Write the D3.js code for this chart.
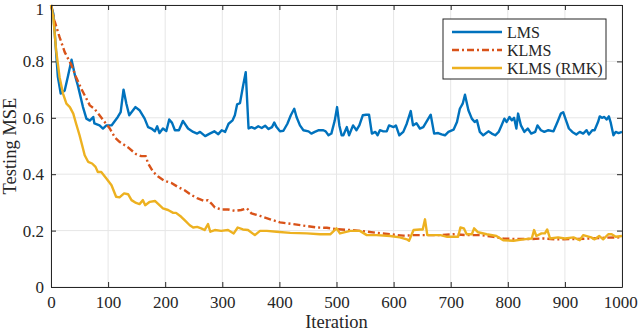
<!DOCTYPE html>
<html>
<head>
<meta charset="utf-8">
<script src="https://cdn.jsdelivr.net/npm/d3@7"></script>
<style>
  body { margin: 0; background: #fff; }
  svg { display: block; }
</style>
</head>
<body>
<svg id="canvas" width="640" height="332"></svg>
<script>
// values: [iteration, testing MSE]
var lms = [[0,1],[4,0.97],[8,0.86],[12,0.745],[17,0.686],[24,0.697],[30,0.75],[36,0.806],[42,0.75],[47,0.715],[56,0.638],[62,0.597],[68,0.59],[74,0.603],[76,0.58],[85,0.573],[91,0.562],[97,0.573],[106,0.573],[117,0.603],[122,0.62],[127,0.70],[132,0.65],[137,0.609],[148,0.638],[155,0.627],[164,0.597],[170,0.567],[176,0.562],[182,0.552],[186,0.57],[190,0.546],[196,0.562],[202,0.553],[207,0.594],[212,0.582],[217,0.556],[224,0.556],[231,0.589],[240,0.562],[249,0.55],[256,0.544],[261,0.55],[270,0.535],[278,0.544],[286,0.552],[293,0.542],[299,0.556],[305,0.55],[311,0.579],[318,0.591],[322,0.609],[326,0.648],[331,0.652],[336,0.709],[341,0.762],[346,0.562],[351,0.567],[357,0.562],[363,0.57],[369,0.564],[375,0.572],[381,0.56],[387,0.567],[391,0.583],[395,0.567],[401,0.552],[407,0.554],[414,0.579],[420,0.609],[426,0.632],[430,0.603],[436,0.573],[442,0.556],[451,0.552],[456,0.544],[462,0.55],[469,0.556],[477,0.556],[481,0.552],[486,0.538],[491,0.544],[497,0.591],[501,0.638],[505,0.573],[509,0.538],[512,0.538],[518,0.567],[522,0.538],[529,0.573],[535,0.556],[540,0.573],[546,0.609],[552,0.611],[557,0.611],[562,0.544],[568,0.55],[572,0.538],[576,0.556],[582,0.552],[588,0.552],[592,0.573],[600,0.567],[604,0.573],[610,0.538],[617,0.55],[623,0.579],[630,0.624],[634,0.573],[640,0.581],[646,0.562],[652,0.567],[659,0.591],[665,0.611],[671,0.544],[678,0.546],[684,0.541],[690,0.538],[696,0.55],[705,0.558],[711,0.585],[716,0.632],[721,0.65],[725,0.682],[731,0.627],[737,0.597],[742,0.585],[746,0.591],[751,0.55],[757,0.538],[766,0.552],[772,0.544],[778,0.538],[784,0.55],[789,0.573],[794,0.597],[798,0.585],[803,0.603],[807,0.591],[811,0.6],[815,0.562],[818,0.615],[823,0.573],[829,0.55],[835,0.562],[841,0.544],[848,0.55],[852,0.573],[858,0.556],[864,0.55],[871,0.556],[880,0.552],[887,0.585],[893,0.615],[897,0.62],[902,0.591],[907,0.562],[913,0.55],[920,0.541],[926,0.55],[932,0.544],[938,0.556],[942,0.541],[948,0.556],[952,0.556],[958,0.585],[961,0.605],[965,0.6],[969,0.603],[973,0.594],[977,0.605],[980,0.585],[985,0.538],[989,0.55],[994,0.546],[1000,0.55]]

var klms = [[0,1],[6,0.945],[15,0.886],[24,0.833],[36,0.786],[44,0.744],[53,0.703],[62,0.668],[68,0.644],[76,0.632],[85,0.609],[94,0.585],[103,0.562],[112,0.53],[120,0.515],[135,0.495],[149,0.471],[158,0.464],[166,0.464],[170,0.438],[179,0.408],[187,0.393],[199,0.376],[211,0.369],[222,0.355],[234,0.343],[246,0.326],[257,0.314],[269,0.305],[275,0.308],[281,0.296],[287,0.282],[298,0.275],[310,0.275],[322,0.27],[333,0.273],[343,0.279],[351,0.261],[366,0.252],[384,0.24],[401,0.229],[424,0.223],[448,0.216],[465,0.211],[483,0.21],[500,0.205],[524,0.202],[547,0.198],[570,0.192],[594,0.187],[617,0.182],[635,0.184],[658,0.184],[682,0.184],[705,0.187],[728,0.184],[752,0.184],[775,0.178],[792,0.172],[816,0.17],[839,0.17],[862,0.172],[886,0.169],[915,0.17],[944,0.172],[973,0.175],[1000,0.176]]

var rmk = [[0,1],[4,0.957],[9,0.839],[15,0.744],[21,0.686],[27,0.65],[33,0.638],[39,0.615],[44,0.579],[50,0.538],[56,0.491],[59,0.467],[65,0.444],[72,0.438],[78,0.426],[82,0.408],[88,0.408],[97,0.385],[106,0.361],[114,0.32],[120,0.318],[128,0.332],[135,0.329],[141,0.308],[149,0.298],[155,0.294],[161,0.308],[165,0.29],[173,0.302],[182,0.305],[190,0.29],[196,0.279],[205,0.273],[214,0.263],[219,0.263],[228,0.249],[234,0.237],[243,0.219],[249,0.211],[256,0.213],[263,0.208],[269,0.202],[275,0.223],[279,0.196],[287,0.202],[298,0.199],[310,0.202],[320,0.19],[327,0.211],[336,0.204],[345,0.202],[357,0.184],[366,0.199],[378,0.199],[395,0.196],[419,0.192],[448,0.19],[471,0.187],[489,0.187],[500,0.208],[506,0.19],[524,0.199],[541,0.199],[553,0.184],[570,0.184],[594,0.181],[611,0.176],[623,0.169],[627,0.164],[635,0.202],[646,0.204],[651,0.204],[655,0.24],[659,0.184],[682,0.184],[694,0.178],[713,0.178],[717,0.211],[723,0.208],[728,0.187],[737,0.187],[741,0.208],[748,0.194],[763,0.187],[780,0.181],[792,0.166],[810,0.164],[827,0.169],[842,0.172],[846,0.202],[850,0.181],[859,0.19],[865,0.19],[869,0.204],[874,0.172],[888,0.176],[900,0.172],[915,0.176],[926,0.166],[932,0.184],[946,0.176],[952,0.169],[960,0.181],[967,0.169],[976,0.187],[982,0.187],[989,0.178],[1000,0.181]]

var xTicks = [0, 100, 200, 300, 400, 500, 600, 700, 800, 900, 1000]
var yTicks = [0, 0.2, 0.4, 0.6, 0.8, 1]
var seriesNames = ['LMS', 'KLMS', 'KLMS (RMK)']

var colors = ['#0072BD', '#D95319', '#EDB120']
var dashes = [null, '7,3,2,3', null]
var serif = "'Liberation Serif', 'Times New Roman', serif"

var margin = {left: 51, right: 18, top: 5, bottom: 45}
var width = 640, height = 332

var svg = d3.select('#canvas')
var x = d3.scaleLinear().domain([0, 1000]).range([margin.left, width - margin.right])
var y = d3.scaleLinear().domain([0, 1]).range([height - margin.bottom, margin.top])

// grid
svg.append('g').selectAll('line')
  .data(xTicks)
  .enter().append('line')
  .attr('x1', d => x(d)).attr('x2', d => x(d))
  .attr('y1', y(0)).attr('y2', y(1))
  .attr('stroke', '#e6e6e6').attr('stroke-width', 1)
svg.append('g').selectAll('line')
  .data(yTicks)
  .enter().append('line')
  .attr('x1', x(0)).attr('x2', x(1000))
  .attr('y1', d => y(d)).attr('y2', d => y(d))
  .attr('stroke', '#e6e6e6').attr('stroke-width', 1)

// lines
var line = d3.line().x(d => x(d[0])).y(d => y(d[1]))
var allSeries = [lms, klms, rmk]

allSeries.forEach(function(s, i) {
  svg.append('path')
    .datum(s)
    .attr('d', line)
    .attr('fill', 'none')
    .attr('stroke', colors[i])
    .attr('stroke-width', 2.4)
    .attr('stroke-linejoin', 'round')
    .attr('stroke-dasharray', dashes[i])
})

// axes, MATLAB style box with inward ticks
var fmt = d => d3.format('')(d)
var axB = svg.append('g').attr('transform', 'translate(0,' + y(0) + ')')
  .call(d3.axisBottom(x).tickValues(xTicks).tickSizeInner(-5).tickSizeOuter(0).tickPadding(9).tickFormat(fmt))
var axT = svg.append('g').attr('transform', 'translate(0,' + y(1) + ')')
  .call(d3.axisTop(x).tickValues(xTicks).tickSizeInner(-5).tickSizeOuter(0).tickFormat(''))
var axL = svg.append('g').attr('transform', 'translate(' + x(0) + ',0)')
  .call(d3.axisLeft(y).tickValues(yTicks).tickSizeInner(-5).tickSizeOuter(0).tickPadding(7).tickFormat(fmt))
var axR = svg.append('g').attr('transform', 'translate(' + x(1000) + ',0)')
  .call(d3.axisRight(y).tickValues(yTicks).tickSizeInner(-5).tickSizeOuter(0).tickFormat(''))

;[axB, axT, axL, axR].forEach(function(a) {
  a.attr('font-family', serif).attr('font-size', 17)
  a.select('.domain').attr('stroke', '#262626').attr('stroke-width', 1)
  a.selectAll('.tick line').attr('stroke', '#262626')
  a.selectAll('text').attr('fill', '#262626')
})
// keep the top label inside the picture
axL.selectAll('.tick text').filter(d => d === 1).attr('dy', '0.55em')
// and the last x label
axB.selectAll('.tick text').filter(d => d === 1000).attr('dx', '-0.1em')

// axis labels
svg.append('text')
  .attr('x', x(500)).attr('y', 328)
  .attr('text-anchor', 'middle')
  .attr('font-family', serif).attr('font-size', 18.5).attr('fill', '#262626')
  .text('Iteration')
svg.append('text')
  .attr('transform', 'translate(16,' + y(0.5) + ') rotate(-90)')
  .attr('text-anchor', 'middle')
  .attr('font-family', serif).attr('font-size', 18.5).attr('fill', '#262626')
  .text('Testing MSE')

// legend
var lg = svg.append('g').attr('transform', 'translate(443,19)')
lg.append('rect')
  .attr('width', 163).attr('height', 60)
  .attr('fill', '#fff').attr('stroke', '#262626').attr('stroke-width', 1)
seriesNames.forEach(function(name, i) {
  var yy = 13 + i * 18
  lg.append('line')
    .attr('x1', 9).attr('x2', 59).attr('y1', yy).attr('y2', yy)
    .attr('stroke', colors[i]).attr('stroke-width', 2.4)
    .attr('stroke-dasharray', dashes[i])
  lg.append('text')
    .attr('x', 64).attr('y', yy + 5.5)
    .attr('font-family', serif).attr('font-size', 16).attr('fill', '#262626')
    .text(name)
})
</script>
</body>
</html>
